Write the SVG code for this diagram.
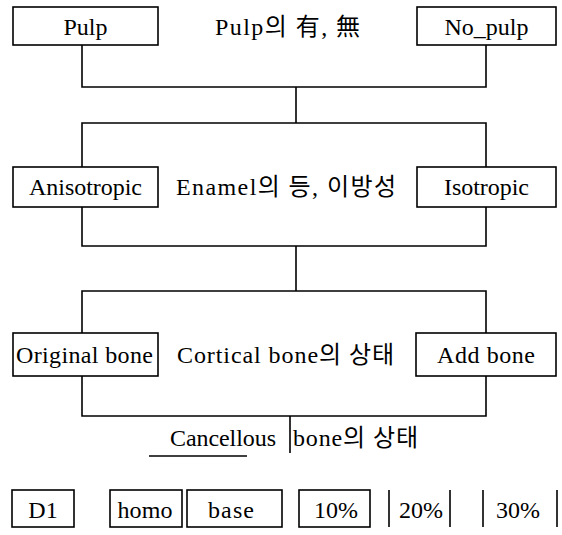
<svg xmlns="http://www.w3.org/2000/svg" width="562" height="535" viewBox="0 0 562 535">
<style>
.box{fill:#fff;stroke:#000;stroke-width:1.6}
.ln{fill:none;stroke:#000;stroke-width:1.6}
text{font-family:'Liberation Serif','Noto Sans CJK KR',serif;font-size:24px;fill:#000}
.c{text-anchor:middle}
</style>
<rect width="562" height="535" fill="#fff"/>
<g id="connectors">
<path class="ln" d="M82,45 V87 H486 V45 M296,87 V123"/>
<path class="ln" d="M82,167 V123 H486 V167"/>
<path class="ln" d="M82,207 V246 H486 V207 M296,246 V291"/>
<path class="ln" d="M82,333 V291 H486 V333"/>
<path class="ln" d="M82,376 V416 H486 V376 M290,416 V453"/>
</g>
<g id="pulp"><rect class="box" x="13" y="7" width="145" height="38"/><text class="c" x="85.5" y="35" textLength="44">Pulp</text></g>
<g id="pulp_label"><text x="215" y="35" textLength="145">Pulp의 有, 無</text></g>
<g id="no_pulp"><rect class="box" x="417" y="7" width="139" height="38"/><text class="c" x="486.5" y="35" textLength="84">No_pulp</text></g>
<g id="anisotropic"><rect class="box" x="13" y="167" width="145" height="40"/><text class="c" x="85.5" y="195" textLength="113">Anisotropic</text></g>
<g id="enamel_label"><text x="176" y="195" textLength="220">Enamel의 등, 이방성</text></g>
<g id="isotropic"><rect class="box" x="417" y="167" width="139" height="40"/><text class="c" x="486.5" y="195" textLength="85">Isotropic</text></g>
<g id="original_bone"><rect class="box" x="13" y="333" width="145" height="43"/><text x="16" y="363" textLength="137">Original bone</text></g>
<g id="cortical_label"><text x="177" y="363" textLength="217">Cortical bone의 상태</text></g>
<g id="add_bone"><rect class="box" x="416" y="333" width="140" height="43"/><text x="437" y="363" textLength="98">Add bone</text></g>
<g id="cancellous_label"><text x="170" y="446" textLength="106">Cancellous</text><line class="ln" x1="149" y1="456" x2="247" y2="456" stroke-width="1.2"/><text x="293" y="446" textLength="125">bone의 상태</text></g>
<g id="d1"><rect class="box" x="12" y="490" width="62" height="37"/><text class="c" x="43" y="518">D1</text></g>
<g id="homo"><rect class="box" x="110" y="490" width="72" height="37"/><text class="c" x="145" y="518" textLength="55">homo</text></g>
<g id="base"><rect class="box" x="187" y="490" width="95" height="37"/><text class="c" x="231" y="518" textLength="46">base</text></g>
<g id="p10"><rect class="box" x="299" y="490" width="71" height="37"/><text class="c" x="336" y="518">10%</text></g>
<g id="p20"><line class="ln" x1="389" y1="490" x2="389" y2="527"/><line class="ln" x1="450" y1="490" x2="450" y2="527"/><text class="c" x="421" y="518">20%</text></g>
<g id="p30"><line class="ln" x1="483" y1="490" x2="483" y2="527"/><line class="ln" x1="557" y1="490" x2="557" y2="527"/><text class="c" x="518" y="518">30%</text></g>
</svg>
